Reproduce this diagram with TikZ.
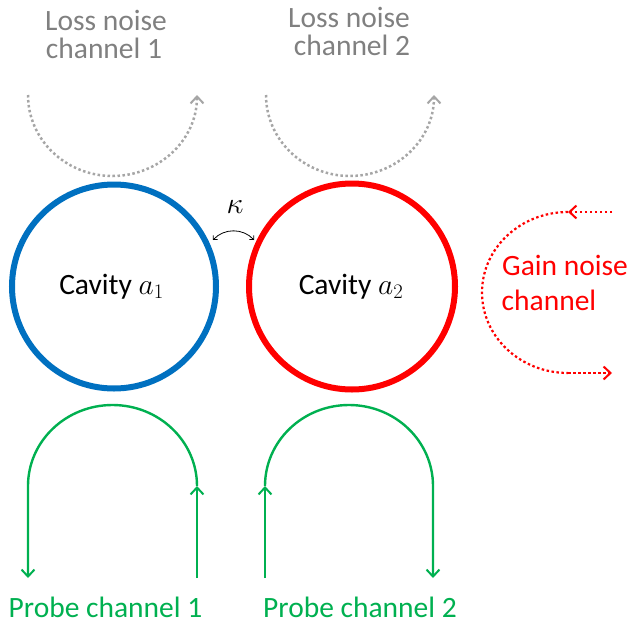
\documentclass[tikz,border=0pt]{standalone}
\usepackage{fix-cm}
\usepackage{fontspec}
\setmainfont{Carlito}
\usetikzlibrary{arrows.meta}
\definecolor{cblue}{HTML}{0070C0}
\definecolor{cred}{HTML}{FF0000}
\definecolor{cgreen}{HTML}{00B050}
\definecolor{cgraytext}{HTML}{808080}
\definecolor{cgrayline}{HTML}{A6A6A6}
\tikzset{
  cav/.style={line width=6pt},
  lbl/.style={font=\fontsize{29.5}{32}\selectfont, align=center, inner sep=0pt},
  dotline/.style={line width=2.5pt, dash pattern=on 2.5pt off 2.5pt},
  probe/.style={cgreen, line width=2.4pt},
  tip/.style={-{Straight Barb[length=7pt,width=13pt,line width=2pt]}},
}
\begin{document}
\begin{tikzpicture}[x=1pt,y=-1pt]
\useasboundingbox (0,0) rectangle (629,624);
% cavities
\node[cav, draw=cblue, circle, minimum size=204pt, inner sep=0pt] (c1) at (114,286.5) {};
\node[cav, draw=cred, circle, minimum size=206pt, inner sep=0pt] (c2) at (352,286.5) {};
\node[lbl, anchor=base] (t1) at (111.5,294) {Cavity $a_1$};
\node[lbl, anchor=base] (t2) at (351,294) {Cavity $a_2$};
% coupling
\node[font=\fontsize{30}{30}\selectfont, inner sep=0pt, anchor=base] (kap) at (235,213) {$\kappa$};
\coordinate (k1) at (213,240);
\coordinate (k2) at (254,240);
\draw[line width=0.8pt, {Straight Barb[length=3pt,width=6pt]}-{Straight Barb[length=3pt,width=6pt]}] (k1) .. controls (224,228) and (243,228) .. (k2);
% loss noise
\node[lbl, cgraytext, anchor=base] (l1a) at (106,30) {Loss noise};
\node[lbl, cgraytext, anchor=base] (l1b) at (104,58) {channel 1};
\node[lbl, cgraytext, anchor=base] (l2a) at (349,27) {Loss noise};
\node[lbl, cgraytext, anchor=base] (l2b) at (352,55) {channel 2};
\coordinate (ls1) at (28,95);
\coordinate (ls2) at (266,95);
\draw[dotline, cgrayline, tip] (ls1) arc[start angle=180, end angle=0, x radius=84.5, y radius=81];
\draw[dotline, cgrayline, tip] (ls2) arc[start angle=180, end angle=0, x radius=84, y radius=81];
% gain noise
\node[lbl, cred, anchor=base] (g1) at (565,275) {Gain noise};
\node[lbl, cred, anchor=base] (g2) at (549,310) {channel};
\coordinate (gin) at (612,212);
\coordinate (gtop) at (568,212);
\coordinate (gbot) at (568,373);
\coordinate (gout) at (612,373);
\draw[dotline, cred, line width=2.2pt, tip] (gin) -- (gtop);
\draw[dotline, cred, line width=2.2pt] (gtop) arc[start angle=270, end angle=90, x radius=86, y radius=80.5];
\draw[dotline, cred, line width=2.2pt, tip] (gbot) -- (gout);
% probe channels
\coordinate (p1in) at (197,578);
\coordinate (p1r) at (197,486);
\coordinate (p1l) at (28,486);
\coordinate (p1out) at (28,578);
\draw[probe, tip] (p1in) -- (p1r);
\draw[probe, tip] (p1r) arc[start angle=0, end angle=-180, x radius=84.5, y radius=81] -- (p1out);
\coordinate (p2in) at (265,578);
\coordinate (p2l) at (265,486);
\coordinate (p2r) at (433,486);
\coordinate (p2out) at (433,578);
\draw[probe, tip] (p2in) -- (p2l);
\draw[probe, tip] (p2l) arc[start angle=180, end angle=360, x radius=84, y radius=81] -- (p2out);
\node[lbl, cgreen, anchor=base] (pr1) at (105.5,617) {Probe channel 1};
\node[lbl, cgreen, anchor=base] (pr2) at (360,617) {Probe channel 2};
\end{tikzpicture}
\end{document}
